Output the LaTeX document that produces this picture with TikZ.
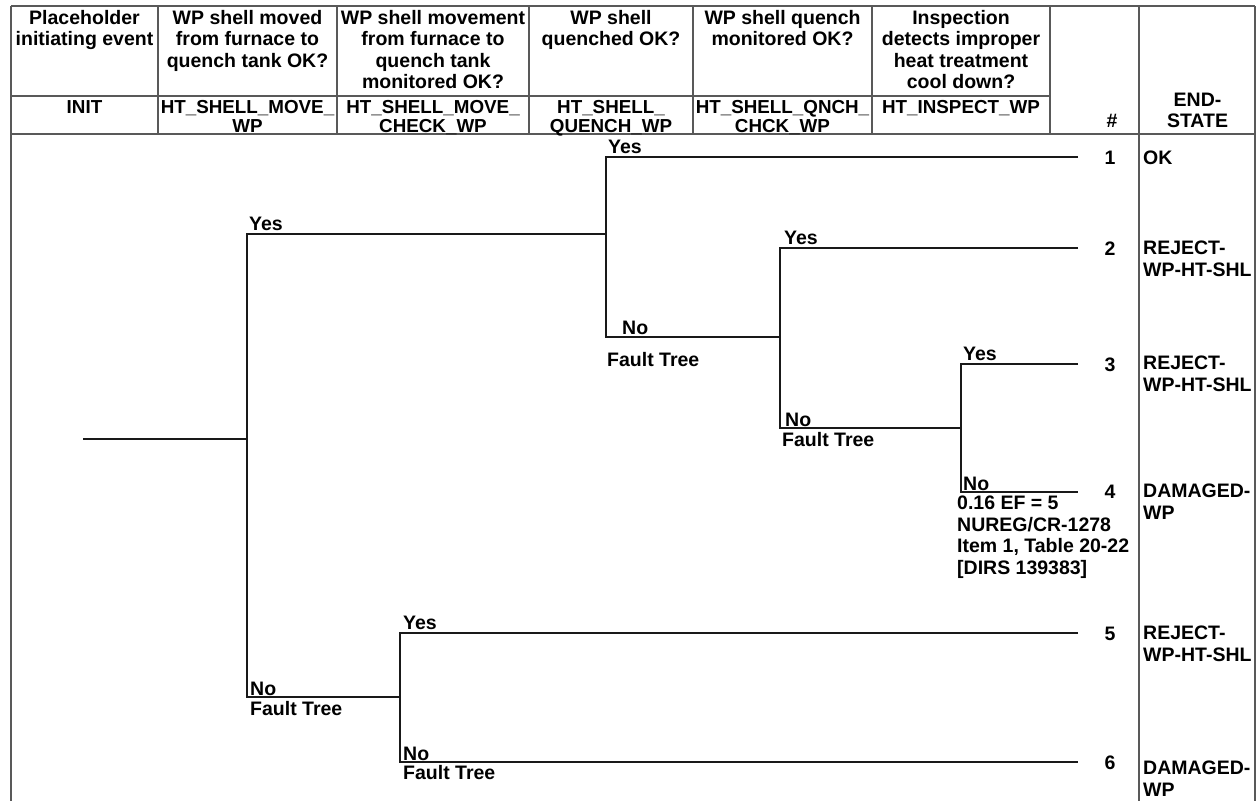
\documentclass[tikz,border=0pt]{standalone}
\usepackage{fontspec}
\setmainfont{Liberation Sans}
\usetikzlibrary{positioning}
\newcommand{\etfont}{\fontsize{19.5}{21.5}\selectfont\bfseries}
\newcommand{\etidfont}{\fontsize{18.8}{19.5}\selectfont\bfseries}
\tikzset{
  etgrid/.style={line width=1.3pt, black!65},
  etbranch/.style={line width=1.4pt, black!90},
  ethead/.style={font=\etfont, align=center, inner sep=0pt, anchor=north},
  etid/.style={font=\etidfont, align=center, inner sep=0pt, anchor=north},
  etlabel/.style={font=\etfont, inner sep=0pt, anchor=base west},
  etnote/.style={font=\etfont, align=left, inner sep=0pt, anchor=north west},
  etnum/.style={font=\etfont, inner sep=0pt},
  etend/.style={font=\etfont, align=left, inner sep=0pt, anchor=north west},
}

\begin{document}
\begin{tikzpicture}[x=1pt, y=-1pt]
  \useasboundingbox (0,0) rectangle (1257,801);

  % Table frame
  \draw[etgrid] (11,6) -- (1255,6);
  \draw[etgrid] (11,96) -- (1050,96);
  \draw[etgrid] (11,134) -- (1255,134);
  \draw[etgrid] (11,6) -- (11,801);
  \draw[etgrid] (1139,6) -- (1139,801);
  \draw[etgrid] (1255,6) -- (1255,801);
  \foreach \x in {158,337,529,693,872,1050}
    \draw[etgrid] (\x,6) -- (\x,134);

  % Questions
  \node[ethead] (q0) at (84.5,10) {Placeholder\\initiating event};
  \node[ethead] (q1) at (247.5,10) {WP shell moved\\from furnace to\\quench tank OK?};
  \node[ethead] (q2) at (433,10) {WP shell movement\\from furnace to\\quench tank\\monitored OK?};
  \node[ethead] (q3) at (611,10) {WP shell\\quenched OK?};
  \node[ethead] (q4) at (782.5,10) {WP shell quench\\monitored OK?};
  \node[ethead] (q5) at (961,10) {Inspection\\detects improper\\heat treatment\\cool down?};

  % Top event names
  \node[etid] (id0) at (84.5,100) {INIT};
  \node[etid] (id1) at (247.5,100) {HT\_SHELL\_MOVE\_\\WP};
  \node[etid] (id2) at (433,100) {HT\_SHELL\_MOVE\_\\CHECK\_WP};
  \node[etid] (id3) at (611,100) {HT\_SHELL\_\\QUENCH\_WP};
  \node[etid] (id4) at (782.5,100) {HT\_SHELL\_QNCH\_\\CHCK\_WP};
  \node[etid] (id5) at (961,100) {HT\_INSPECT\_WP};
  \node[etnum] (hnum) at (1112,121) {\#};
  \node[ethead, anchor=center] (hend) at (1197.5,110.5) {END-\\STATE};

  % Branch points
  \coordinate (init) at (83,439);
  \coordinate (fA) at (247,439);
  \coordinate (fAy) at (247,234);
  \coordinate (fAn) at (247,697);
  \coordinate (fB) at (606,234);
  \coordinate (fBy) at (606,157);
  \coordinate (fBn) at (606,337);
  \coordinate (fC) at (780,337);
  \coordinate (fCy) at (780,248);
  \coordinate (fCn) at (780,428);
  \coordinate (fD) at (961,428);
  \coordinate (fDy) at (961,364);
  \coordinate (fDn) at (961,492);
  \coordinate (fE) at (400,697);
  \coordinate (fEy) at (400,633);
  \coordinate (fEn) at (400,762);
  \coordinate (end1) at (1078,157);
  \coordinate (end2) at (1078,248);
  \coordinate (end3) at (1078,364);
  \coordinate (end4) at (1078,492);
  \coordinate (end5) at (1078,633);
  \coordinate (end6) at (1078,762);

  % Event tree
  \draw[etbranch] (init) -- (fA);
  \draw[etbranch] (fB) -- (fAy) -- (fAn) -- (fE);
  \draw[etbranch] (end1) -- (fBy) -- (fBn) -- (fC);
  \draw[etbranch] (end2) -- (fCy) -- (fCn) -- (fD);
  \draw[etbranch] (end3) -- (fDy) -- (fDn) -- (end4);
  \draw[etbranch] (end5) -- (fEy) -- (fEn) -- (end6);

  % Yes / No labels
  \node[etlabel] (yA) at (249,230) {Yes};
  \node[etlabel] (yB) at (608,153) {Yes};
  \node[etlabel] (yC) at (784,244) {Yes};
  \node[etlabel] (yD) at (963,360) {Yes};
  \node[etlabel] (yE) at (403,629) {Yes};
  \node[etlabel] (nA) at (250,695) {No};
  \node[etlabel] (nB) at (622,334) {No};
  \node[etlabel] (nC) at (785,426) {No};
  \node[etlabel] (nD) at (963,490) {No};
  \node[etlabel] (nE) at (403,760) {No};
  \node[etlabel] (ftA) at (250,715) {Fault Tree};
  \node[etlabel] (ftB) at (607,366) {Fault Tree};
  \node[etlabel] (ftC) at (782,446) {Fault Tree};
  \node[etlabel] (ftE) at (403,779) {Fault Tree};
  \node[etnote] (noteD) at (957,496) {0.16 EF = 5\\NUREG/CR-1278\\Item 1, Table 20-22\\{[DIRS 139383]}};

  % Sequence numbers and end states
  \node[etnum] (n1) at (1110,158) {1};
  \node[etnum] (n2) at (1110,249) {2};
  \node[etnum] (n3) at (1110,365) {3};
  \node[etnum] (n4) at (1110,492) {4};
  \node[etnum] (n5) at (1110,634) {5};
  \node[etnum] (n6) at (1110,763) {6};
  \node[etend] (s1) at (1143,151) {OK};
  \node[etend] (s2) at (1143,241) {REJECT-\\WP-HT-SHL};
  \node[etend] (s3) at (1143,356) {REJECT-\\WP-HT-SHL};
  \node[etend] (s4) at (1143,484) {DAMAGED-\\WP};
  \node[etend] (s5) at (1143,626) {REJECT-\\WP-HT-SHL};
  \node[etend] (s6) at (1143,761) {DAMAGED-\\WP};
\end{tikzpicture}
\end{document}
